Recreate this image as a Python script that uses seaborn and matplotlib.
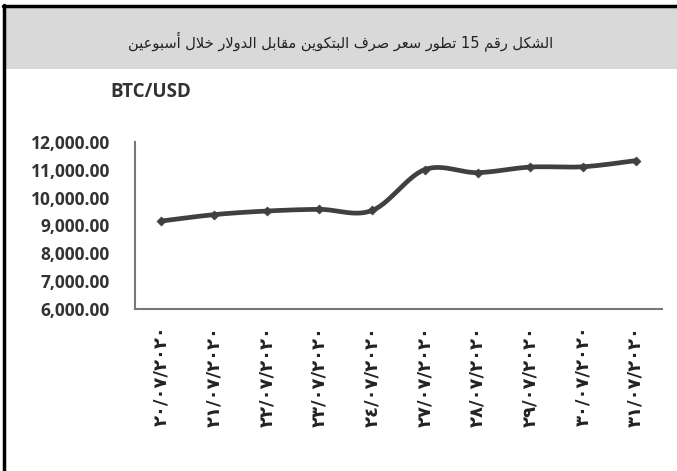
import numpy as np
import pandas as pd
import matplotlib
matplotlib.use("Agg")
import matplotlib.pyplot as plt
import seaborn as sns
from matplotlib.patches import Rectangle
from matplotlib.lines import Line2D

# data
dates = ["٢٠/٠٧/٢٠٢٠", "٢١/٠٧/٢٠٢٠", "٢٢/٠٧/٢٠٢٠", "٢٣/٠٧/٢٠٢٠", "٢٤/٠٧/٢٠٢٠",
         "٢٧/٠٧/٢٠٢٠", "٢٨/٠٧/٢٠٢٠", "٢٩/٠٧/٢٠٢٠", "٣٠/٠٧/٢٠٢٠", "٣١/٠٧/٢٠٢٠"]
btc_usd = [9160, 9390, 9520, 9580, 9540, 11010, 10900, 11100, 11110, 11330]
y_ticks = [6000, 7000, 8000, 9000, 10000, 11000, 12000]
title = "الشكل رقم 15 تطور سعر صرف البتكوين مقابل الدولار خلال أسبوعين"
series_name = "BTC/USD"

# minimal arabic shaping (isolated, final, initial, medial)
FORMS = {
    "ا": ("\uFE8D", "\uFE8E", None, None),
    "أ": ("\uFE83", "\uFE84", None, None),
    "ب": ("\uFE8F", "\uFE90", "\uFE91", "\uFE92"),
    "ت": ("\uFE95", "\uFE96", "\uFE97", "\uFE98"),
    "خ": ("\uFEA5", "\uFEA6", "\uFEA7", "\uFEA8"),
    "د": ("\uFEA9", "\uFEAA", None, None),
    "ر": ("\uFEAD", "\uFEAE", None, None),
    "س": ("\uFEB1", "\uFEB2", "\uFEB3", "\uFEB4"),
    "ش": ("\uFEB5", "\uFEB6", "\uFEB7", "\uFEB8"),
    "ص": ("\uFEB9", "\uFEBA", "\uFEBB", "\uFEBC"),
    "ط": ("\uFEC1", "\uFEC2", "\uFEC3", "\uFEC4"),
    "ع": ("\uFEC9", "\uFECA", "\uFECB", "\uFECC"),
    "ف": ("\uFED1", "\uFED2", "\uFED3", "\uFED4"),
    "ق": ("\uFED5", "\uFED6", "\uFED7", "\uFED8"),
    "ك": ("\uFED9", "\uFEDA", "\uFEDB", "\uFEDC"),
    "ل": ("\uFEDD", "\uFEDE", "\uFEDF", "\uFEE0"),
    "م": ("\uFEE1", "\uFEE2", "\uFEE3", "\uFEE4"),
    "ن": ("\uFEE5", "\uFEE6", "\uFEE7", "\uFEE8"),
    "و": ("\uFEED", "\uFEEE", None, None),
    "ي": ("\uFEF1", "\uFEF2", "\uFEF3", "\uFEF4"),
}
LAM_ALEF = {"ا": ("\uFEFB", "\uFEFC"), "أ": ("\uFEF7", "\uFEF8")}


def shape_word(word):
    out = []
    i = 0
    prev_joins = False
    while i < len(word):
        c = word[i]
        if c not in FORMS:
            out.append(c)
            prev_joins = False
            i += 1
            continue
        nxt = word[i + 1] if i + 1 < len(word) else None
        if c == "ل" and nxt in LAM_ALEF:
            out.append(LAM_ALEF[nxt][1 if prev_joins else 0])
            prev_joins = False
            i += 2
            continue
        iso, fin, ini, med = FORMS[c]
        next_joins = ini is not None and nxt in FORMS
        if prev_joins and next_joins:
            out.append(med)
        elif prev_joins:
            out.append(fin)
        elif next_joins:
            out.append(ini)
        else:
            out.append(iso)
        prev_joins = next_joins
        i += 1
    return "".join(out)


def rtl(text):
    words = []
    for w in text.split(" "):
        if any(ch in FORMS for ch in w):
            words.append(shape_word(w)[::-1])
        else:
            words.append(w)
    return " ".join(words[::-1])


df = pd.DataFrame({"x": np.arange(len(btc_usd)), "price": btc_usd})

# smoothed line like excel (catmull-rom through the points)
px = df["x"].to_numpy(dtype=float)
py = df["price"].to_numpy(dtype=float)
ext_x = np.concatenate([[px[0]], px, [px[-1]]])
ext_y = np.concatenate([[py[0]], py, [py[-1]]])
sx, sy = [], []
t = np.linspace(0, 1, 30)
for k in range(1, len(ext_x) - 2):
    for arr, res in ((ext_x, sx), (ext_y, sy)):
        p0, p1, p2, p3 = arr[k - 1], arr[k], arr[k + 1], arr[k + 2]
        res.extend(0.5 * ((2 * p1) + (-p0 + p2) * t + (2 * p0 - 5 * p1 + 4 * p2 - p3) * t ** 2
                          + (-p0 + 3 * p1 - 3 * p2 + p3) * t ** 3))
smooth = pd.DataFrame({"x": sx, "price": sy})

sns.set_style("white")
plt.rcParams["font.family"] = ["Open Sans", "DejaVu Sans"]

fig = plt.figure(figsize=(6.77, 4.71), dpi=100)

# header band and frame lines
fig.patches.append(Rectangle((5 / 677, 1 - 69 / 471), 1, 62 / 471, transform=fig.transFigure,
                             facecolor="#d9d9d9", edgecolor="none", zorder=0))
fig.lines.append(Line2D([4 / 677, 4 / 677], [0, 1 - 5 / 471], transform=fig.transFigure,
                        color="black", linewidth=2.5))
fig.lines.append(Line2D([3 / 677, 1], [1 - 6 / 471, 1 - 6 / 471], transform=fig.transFigure,
                        color="black", linewidth=2.5))
fig.text(341 / 677, 1 - 41 / 471, rtl(title), ha="center", va="center", fontsize=10.5,
         family=["DejaVu Sans"], color="#222222")
fig.text(151 / 677, 1 - 92 / 471, series_name, ha="center", va="center", fontsize=13.5,
         fontweight="bold", color="#333333")

ax = fig.add_axes([135 / 677, 1 - 309 / 471, 527 / 677, 167 / 471])
sns.lineplot(data=smooth, x="x", y="price", ax=ax, color="#404040", linewidth=3.4, sort=False)
sns.scatterplot(data=df, x="x", y="price", ax=ax, marker="D", s=22, color="#404040",
                edgecolor="#404040", zorder=3)

ax.set_xlim(-0.5, len(dates) - 0.5)
ax.set_ylim(y_ticks[0], y_ticks[-1])
ax.set_yticks(y_ticks)
ax.set_yticklabels([f"{v:,.2f}" for v in y_ticks], fontsize=12.5, fontweight="bold", color="#333333")
ax.set_xticks(np.arange(len(dates) + 1) - 0.5)
ax.set_xticklabels([])
ax.set_xticks(np.arange(len(dates)), minor=True)
ax.set_xticklabels(dates, minor=True, rotation=90, fontsize=13, fontweight="bold",
                   family=["DejaVu Sans"], color="#222222")
ax.tick_params(axis="x", which="minor", length=0, pad=12)
ax.tick_params(axis="both", which="major", length=6, width=1.5, color="#777777", direction="out")
ax.tick_params(axis="y", pad=12)
ax.set_xlabel("")
ax.set_ylabel("")
for side in ["top", "right"]:
    ax.spines[side].set_visible(False)
for side in ["left", "bottom"]:
    ax.spines[side].set_color("#777777")
    ax.spines[side].set_linewidth(1.5)

fig.savefig("out.png", dpi=100)
